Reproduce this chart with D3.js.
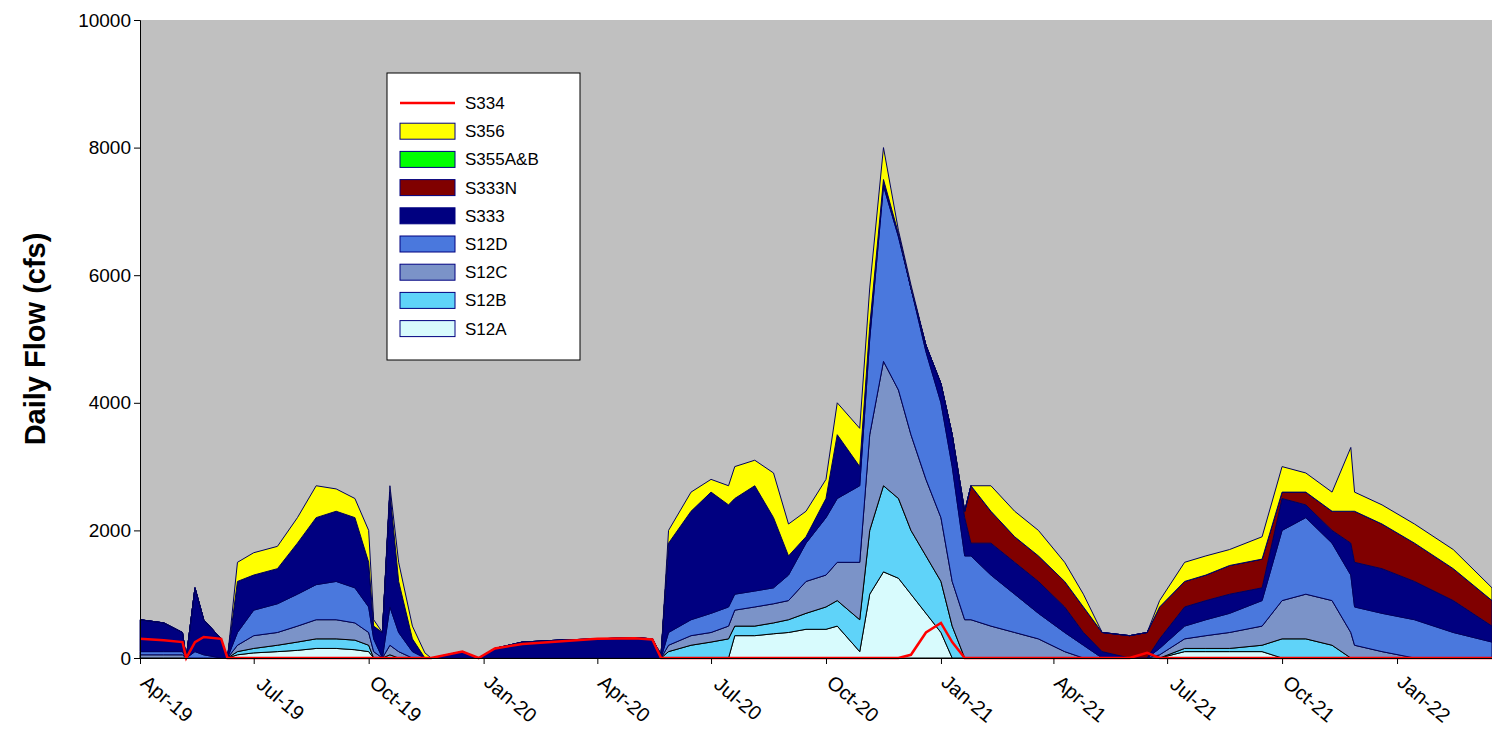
<!DOCTYPE html>
<html><head><meta charset="utf-8">
<script src="https://cdn.jsdelivr.net/npm/d3@7"></script>
<style>body{margin:0;background:#fff;font-family:Arial,"Liberation Sans",sans-serif}</style>
</head><body><div id="chart"></div>
<script>
// sample dates (roughly semi-monthly, extra points at on/off transitions)
const dates = ["2019-04-01","2019-04-20","2019-05-05","2019-05-08","2019-05-15","2019-05-22","2019-06-05","2019-06-10","2019-06-18","2019-07-01",
"2019-07-20","2019-08-05","2019-08-20","2019-09-05","2019-09-20","2019-10-01","2019-10-05","2019-10-12","2019-10-18","2019-10-25",
"2019-11-05","2019-11-15","2019-11-20","2019-12-15","2019-12-28","2020-01-10","2020-02-01","2020-03-01","2020-04-01","2020-05-01",
"2020-05-15","2020-05-22","2020-05-28","2020-06-15","2020-07-01","2020-07-15","2020-07-20","2020-08-05","2020-08-20","2020-09-01",
"2020-09-15","2020-10-01","2020-10-10","2020-10-28","2020-11-05","2020-11-16","2020-11-28","2020-12-08","2020-12-20","2021-01-01",
"2021-01-10","2021-01-20","2021-01-25","2021-02-10","2021-03-01","2021-03-20","2021-04-10","2021-04-25","2021-05-10","2021-06-01",
"2021-06-15","2021-06-25","2021-07-15","2021-08-01","2021-08-20","2021-09-15","2021-10-01","2021-10-20","2021-11-10","2021-11-25",
"2021-11-28","2021-12-20","2022-01-15","2022-02-15","2022-03-18"];

const s12a = [0,0,0,0,0,0,0,0,50,80, 100,120,150,150,130,100,0,0,0,0, 0,0,0,0,0,0,0,0,0,0, 0,0,0,0,0,0,350,350,380,400,
  450,450,500,100,1000,1350,1250,1000,700,400, 0,0,0,0,0,0,0,0,0,0, 0,0,100,100,100,100,0,0,0,0, 0,0,0,0,0];
const s12b = [0,0,0,0,0,0,0,0,50,70, 100,130,150,150,150,100,0,0,50,0, 0,0,0,0,0,0,0,0,0,0, 0,0,100,200,250,300,150,150,170,200,
  250,350,400,500,1000,1350,1250,1000,900,800, 500,0,0,0,0,0,0,0,0,0, 0,0,50,50,50,100,300,300,200,0, 0,0,0,0,0];
const s12c = [50,50,50,0,0,0,0,0,100,200, 200,250,300,300,270,200,100,0,150,100, 0,0,0,0,0,0,0,0,0,0, 0,0,100,150,150,200,250,300,300,300,
  500,500,600,900,1500,1950,1700,1500,1200,1000, 700,600,600,500,400,300,100,0,0,0, 0,50,150,200,250,300,600,700,700,400, 200,100,0,0,0];
const s12d = [50,50,50,0,100,50,0,0,200,400, 450,500,550,600,550,400,200,0,600,300, 100,0,0,0,0,0,0,0,0,0, 0,0,200,250,300,300,250,250,250,400,
  600,900,1000,1200,1500,2750,2400,2300,2000,1800, 1800,1000,1000,800,600,400,300,200,0,0, 0,100,200,250,300,400,1100,1200,900,900, 600,600,600,400,250];
const s333 = [500,450,300,0,1000,550,300,0,800,550, 550,800,1050,1100,1100,700,200,400,1800,800, 200,0,0,100,0,150,250,280,300,320, 300,50,1400,1700,1900,1600,1500,1650,1100,300,
  100,300,1000,300,200,100,50,0,100,300, 500,600,200,500,500,500,400,200,100,0, 0,150,300,300,300,200,500,200,200,500, 700,700,600,500,250];
const s333n = [0,0,0,0,0,0,0,0,0,0, 0,0,0,0,0,0,0,0,0,0, 0,0,0,0,0,0,0,0,0,0, 0,0,0,0,0,0,0,0,0,0,
  0,0,0,0,0,0,0,0,0,0, 0,100,900,500,400,400,400,400,300,350, 400,500,400,400,450,450,100,200,300,500, 800,700,600,500,400];
const s355 = dates.map(() => 0);
const s356 = [0,0,0,0,0,0,0,0,300,350, 350,400,500,350,300,500,100,0,100,300, 200,80,0,0,0,0,0,0,0,0, 0,0,200,300,200,300,500,400,700,500,
  400,300,500,600,600,500,50,50,0,0, 0,0,0,400,400,400,300,200,0,0, 0,100,300,300,250,350,400,300,300,1000, 300,300,300,300,200];
const s334 = [300,280,250,0,250,330,300,0,0,0, 0,0,0,0,0,0,0,0,0,0, 0,0,0,100,0,150,220,260,300,310, 290,0,0,0,0,0,0,0,0,0,
  0,0,0,0,0,0,0,50,400,550, 250,0,0,0,0,0,0,0,0,0, 80,0,0,0,0,0,0,0,0,0, 0,0,0,0,0];

const keys = ["S12A","S12B","S12C","S12D","S333","S333N","S355A&B","S356"];
const seriesVals = [s12a,s12b,s12c,s12d,s333,s333n,s355,s356];
const colors = ["#d8fbfd","#5fd3f9","#7b93c8","#4a78dd","#000080","#800000","#00ff00","#ffff00"];
const yTicks = [0,2000,4000,6000,8000,10000];
const xTickDates = ["2019-04-01","2019-07-01","2019-10-01","2020-01-01","2020-04-01","2020-07-01","2020-10-01","2021-01-01","2021-04-01","2021-07-01","2021-10-01","2022-01-01"];

const W = 1492, H = 737;
const margin = {top: 20, right: 0, bottom: 79, left: 140};
const w = W - margin.left - margin.right, h = H - margin.top - margin.bottom;
const parse = d3.timeParse("%Y-%m-%d");

const rows = dates.map((d, i) => {
    let r = {date: parse(d), S334: s334[i]};
    keys.forEach((k, j) => r[k] = seriesVals[j][i]);
    return r;
});

const svg = d3.select("#chart").append("svg").attr("width", W).attr("height", H);
const g = svg.append("g").attr("transform", `translate(${margin.left},${margin.top})`);

const x = d3.scaleTime().domain([parse("2019-04-01"), parse("2022-03-18")]).range([0, w]);
const y = d3.scaleLinear().domain([0, 10000]).range([h, 0]);

g.append("rect").attr("width", w).attr("height", h).attr("fill", "#c0c0c0");

const stack = d3.stack().keys(keys);
const area = d3.area().x(d => x(d.data.date)).y0(d => y(d[0])).y1(d => y(d[1]));

g.selectAll(".layer").data(stack(rows)).enter().append("path")
    .attr("class", "layer")
    .attr("d", area)
    .attr("fill", (d, i) => colors[i])
    .attr("stroke", (d, i) => i >= 3 ? "#000060" : "#000")
    .attr("stroke-width", 1);

const line = d3.line().x(d => x(d.date)).y(d => y(d.S334));
g.append("path").datum(rows).attr("d", line).attr("fill", "none").attr("stroke", "#ff0000").attr("stroke-width", 2.5);

// axes
const yAxis = g.append("g").call(d3.axisLeft(y).tickValues(yTicks).tickSize(6).tickFormat(d3.format("d")));
yAxis.selectAll("text").style("font-size", "19px").style("fill", "#000");
const xAxis = g.append("g").attr("transform", `translate(0,${h})`)
    .call(d3.axisBottom(x).tickValues(xTickDates.map(parse)).tickSize(6).tickFormat(d3.timeFormat("%b-%y")));
xAxis.selectAll("text").style("font-size", "20px").style("fill", "#000")
    .attr("text-anchor", "middle").attr("x", 0).attr("y", 0).attr("dy", 0)
    .attr("transform", "translate(22,46) rotate(40)");
g.selectAll(".domain, .tick line").attr("stroke", "#000");

svg.append("text").attr("transform", `translate(45,${margin.top + h / 2}) rotate(-90)`)
    .attr("text-anchor", "middle").style("font-size", "29px").style("font-weight", "bold").text("Daily Flow (cfs)");

// legend
const lg = svg.append("g").attr("transform", "translate(387,73)");
lg.append("rect").attr("width", 193).attr("height", 287).attr("fill", "#fff").attr("stroke", "#000");
const legendItems = [{k: "S334", line: true}].concat(keys.map((k, i) => ({k: k, c: colors[i]})).reverse());
legendItems.forEach((it, i) => {
    const yy = 30 + i * 28.2;
    if (it.line) {
        lg.append("line").attr("x1", 13).attr("x2", 68).attr("y1", yy).attr("y2", yy).attr("stroke", "#ff0000").attr("stroke-width", 2.5);
    } else {
        lg.append("rect").attr("x", 13).attr("y", yy - 8).attr("width", 55).attr("height", 16)
            .attr("fill", it.c).attr("stroke", "#000080");
    }
    lg.append("text").attr("x", 78).attr("y", yy + 6).style("font-size", "17px").text(it.k);
});
</script></body></html>
